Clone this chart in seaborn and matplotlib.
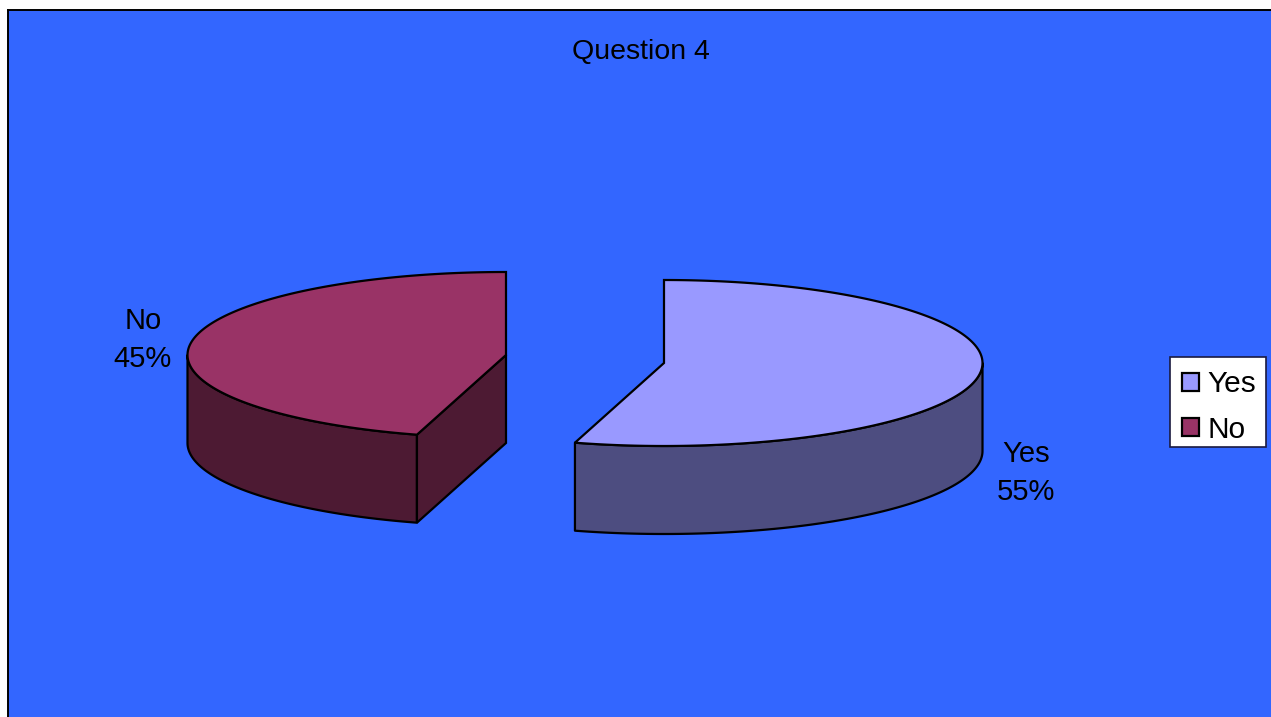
import numpy as np
import matplotlib
matplotlib.use("Agg")
import matplotlib.pyplot as plt
from matplotlib.patches import Patch, Rectangle
import seaborn as sns

# Chart data
categories = ["Yes", "No"]
shares = [54.51, 45.49]
top_colors = ["#9999FF", "#993366"]
wall_colors = ["#4D4D80", "#4D1A33"]
chart_title = "Question 4"

# Layout of the 3D pie, in pixels
centers = [(664, 363), (506, 355)]
rx, ry = 318.5, 83
depth = 88
label_pos = [(1026, 473), (143, 340)]

sns.set_theme(style="white")
plt.rcParams["font.family"] = ["Liberation Sans", "DejaVu Sans"]
palette = sns.color_palette(top_colors)


# Point on the ellipse rim, angle in degrees clockwise from 12 o'clock
def rim(center, deg):
    t = np.radians(deg)
    return center[0] + rx * np.sin(t), center[1] - ry * np.cos(t)


# Side wall between two rim angles
def draw_wall(ax, center, a, b, color):
    x, y = rim(center, np.linspace(a, b, 120))
    ax.fill(np.r_[x, x[::-1]], np.r_[y, y[::-1] + depth],
            facecolor=color, edgecolor="black", lw=1.6, joinstyle="round")


fig = plt.figure(figsize=(12.71, 7.17), dpi=100)
ax = fig.add_axes([8 / 1271, 0, 1 - 8 / 1271, 1 - 9.5 / 717])
ax.set_xlim(8, 1271)
ax.set_ylim(717, 9.5)
ax.set_facecolor("#3366FF")
ax.set_xticks([])
ax.set_yticks([])
sns.despine(ax=ax, right=True, bottom=True, top=False, left=False)
for side in ["left", "top"]:
    ax.spines[side].set_color("black")
    ax.spines[side].set_linewidth(1.4)

# Slice angles come from the shares
split = 360 * shares[0] / sum(shares)

# Yes: starts at 12 o'clock, clockwise
draw_wall(ax, centers[0], 90, split, wall_colors[0])
x, y = rim(centers[0], np.linspace(0, split, 200))
ax.fill(np.r_[centers[0][0], x], np.r_[centers[0][1], y],
        facecolor=palette[0], edgecolor="black", lw=1.6)

# No: the rest of the circle, with its cut face showing
draw_wall(ax, centers[1], split, 270, wall_colors[1])
fx, fy = rim(centers[1], split)
cx, cy = centers[1]
ax.fill([cx, fx, fx, cx], [cy, fy, fy + depth, cy + depth],
        facecolor=wall_colors[1], edgecolor="black", lw=1.6)
x, y = rim(centers[1], np.linspace(split, 360, 200))
ax.fill(np.r_[cx, x], np.r_[cy, y],
        facecolor=palette[1], edgecolor="black", lw=1.6)

ax.text(641, 52, chart_title, ha="center", va="center", fontsize=20.5, color="black")
for name, share, pos in zip(categories, shares, label_pos):
    ax.text(pos[0], pos[1], f"{name}\n{share:.0f}%", ha="center", va="center",
            fontsize=21, color="black", linespacing=1.48)

# Legend rows sit low in their box, so the box is drawn on its own
ax.add_patch(Rectangle((1170, 357), 96, 90, facecolor="white", edgecolor="#1a1a40",
                       lw=1.2, zorder=4))
handles = [Patch(facecolor=c, edgecolor="black", lw=1.6) for c in palette]
ax.legend(handles, categories, loc="center right", bbox_to_anchor=(1266, 407),
          bbox_transform=ax.transData, fontsize=21.5, frameon=False, borderaxespad=0,
          handlelength=0.57, handleheight=0.57, handletextpad=0.27,
          labelspacing=0.58, borderpad=0.33, labelcolor="black").set_zorder(5)

fig.savefig("out.png", dpi=100, facecolor="white")
